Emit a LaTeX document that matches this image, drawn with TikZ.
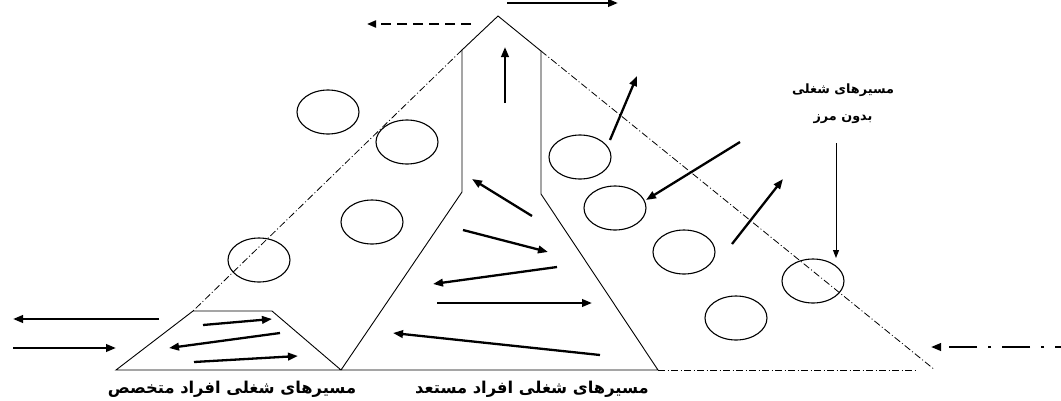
\documentclass[tikz,border=0pt]{standalone}
\usepackage{fontspec}
\newfontfamily\arabicfont[Script=Arabic]{DejaVu Sans}
\TeXXeTstate=1
\usetikzlibrary{arrows.meta}

\begin{document}
\begin{tikzpicture}[x=1pt,y=-1pt,
  flow/.style={line width=2.3pt,-{Triangle[length=10pt,width=7.5pt]}},
  thinflow/.style={line width=1pt,-{Triangle[length=8pt,width=6pt]}},
  outline/.style={line width=0.9pt},
  border/.style={line width=0.8pt,dash pattern=on 7pt off 2.5pt on 1pt off 2.5pt},
  job/.style={line width=1.1pt},
  caption/.style={font=\arabicfont\bfseries\fontsize{12.8}{27}\selectfont,align=center},
  bigcaption/.style={font=\arabicfont\bfseries\fontsize{16.3}{20}\selectfont}]
  \useasboundingbox (0,0) rectangle (1061,400);

  % Open (dash-dot) part of the pyramid.
  \draw[border] (462,50) -- (193,311);
  \draw[border] (541,51) -- (935,370);
  \draw[border] (658,370) -- (915,370);

  % Solid outline: specialists' trapezoid, talents' funnel and the peak.
  \draw[outline] (116,370) -- (193,311) -- (272,311) -- (341,370)
    -- (462,192) -- (462,50) -- (498,16) -- (541,51) -- (541,194)
    -- (658,370) -- cycle;

  % Careers as ellipses.
  \foreach \cx/\cy in {328/112,407/142,372/222,259/260,580/157,
                       615/208,684/252,813/281,736/318}
    {\draw[job] (\cx,\cy) ellipse [x radius=31pt,y radius=22pt];}

  % Moves in and out on the left.
  \draw[flow] (159,319) -- (13,319);
  \draw[flow] (13,348) -- (116,348);

  % Inside the specialists' trapezoid.
  \draw[flow] (203,325) -- (272,319);
  \draw[flow] (280,333) -- (169,348);
  \draw[flow] (194,362) -- (298,356);

  % Inside the talents' funnel.
  \draw[flow] (505,103) -- (505,47);
  \draw[flow] (532,216) -- (472,179);
  \draw[flow] (463,230) -- (548,252);
  \draw[flow] (557,267) -- (433,284);
  \draw[flow] (437,303) -- (592,303);
  \draw[flow] (600,355) -- (393,333);

  % Boundaryless side.
  \draw[flow] (610,140) -- (637,76);
  \draw[flow] (740,142) -- (646,200);
  \draw[flow] (732,244) -- (783,179);

  % Top exits.
  \draw[line width=2pt,dash pattern=on 10pt off 6pt,
        -{Triangle[length=9pt,width=7pt]}] (471,24) -- (367,24);
  \draw[flow] (507,3) -- (618,3);

  % Entry from the right.
  \draw[line width=2.2pt,dash pattern=on 28pt off 11pt on 3pt off 11pt,
        dash phase=22pt,-{Triangle[length=10pt,width=7.5pt]}]
    (1061,347) -- (931,347);

  % Labels.
  \node[caption] (freeLbl) at (843,104)
    {\beginR مسیرهای شغلی\endR\\\beginR بدون مرز\endR};
  \draw[thinflow] (836,143) -- (836,258);
  \node[bigcaption] (expLbl) at (232,389) {\beginR مسیرهای شغلی افراد متخصص\endR};
  \node[bigcaption] (talLbl) at (532,389) {\beginR مسیرهای شغلی افراد مستعد\endR};
\end{tikzpicture}
\end{document}
